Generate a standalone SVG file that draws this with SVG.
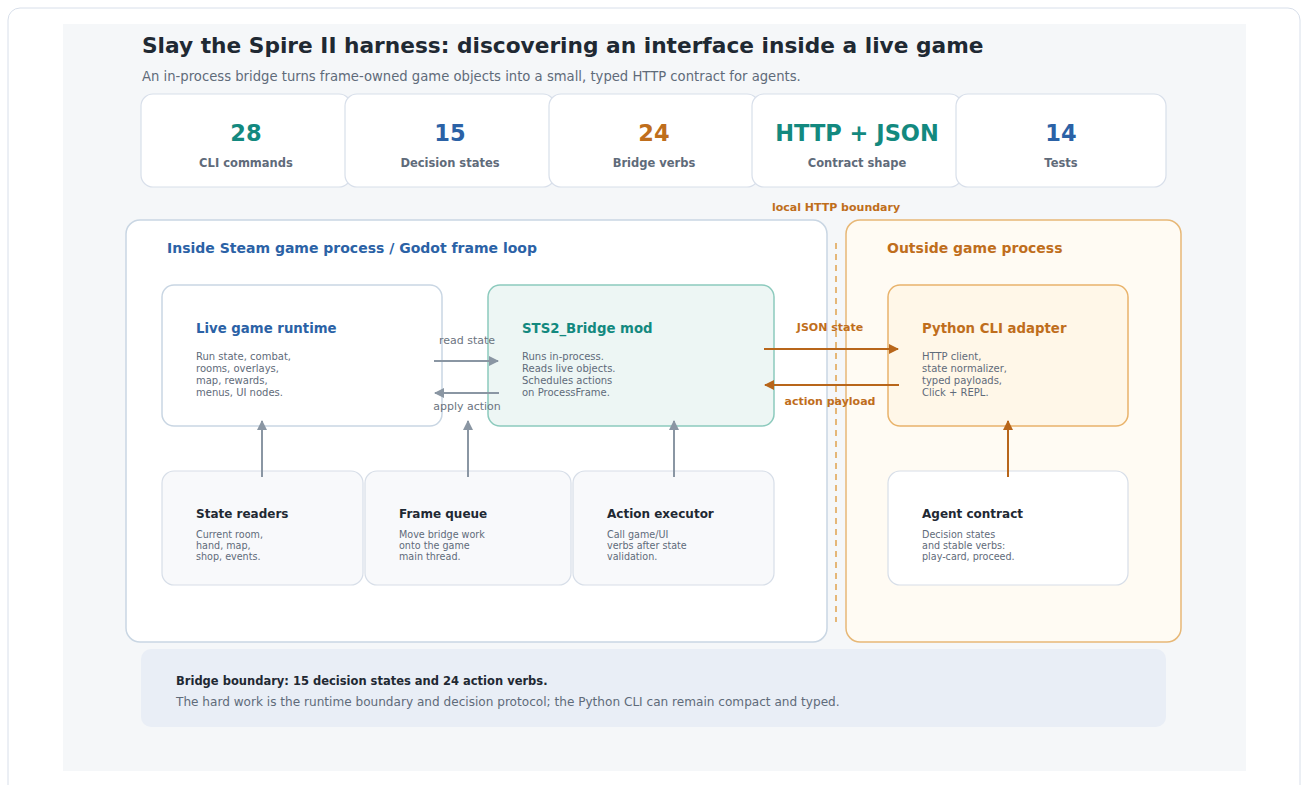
<svg xmlns="http://www.w3.org/2000/svg" width="1301" height="785" viewBox="0 0 1301 785">
<defs>
<style>
text{font-family:"DejaVu Sans","Liberation Sans",sans-serif}
.title{font-size:21.7px;font-weight:bold;fill:#1f2933}
.sub{font-size:13.2px;fill:#5f6b7a}
.card{fill:#fff;stroke:#d8dfea;stroke-width:1.2}
.num{font-size:22.5px;font-weight:bold;text-anchor:middle}
.lbl{font-size:11.5px;font-weight:bold;fill:#5f6b7a;text-anchor:middle}
.teal{fill:#13897f}.blue{fill:#2b62a6}.orange{fill:#bf6e1c}
.grp{font-size:14px;font-weight:bold}
.ntitle{font-size:13.3px;font-weight:bold}
.body{font-size:10px;fill:#5f6b7a}
.stitle{font-size:12px;font-weight:bold;fill:#1f2933}
.sbody{font-size:9.6px;fill:#5f6b7a}
.small{fill:#f8f9fb;stroke:#d7dee8;stroke-width:1.2}
.glbl{font-size:11px;fill:#6b7480;text-anchor:middle}
.olbl{font-size:11px;font-weight:bold;fill:#bf6e1c;text-anchor:middle}
.ga{stroke:#8a96a3;stroke-width:2;fill:none}
.oa{stroke:#b8661a;stroke-width:2;fill:none}
</style>
<marker id="ag" viewBox="0 0 10 10" refX="9" refY="5" markerWidth="5" markerHeight="5" orient="auto"><path d="M0,0L10,5L0,10z" fill="#8a96a3"/></marker>
<marker id="ao" viewBox="0 0 10 10" refX="9" refY="5" markerWidth="5" markerHeight="5" orient="auto"><path d="M0,0L10,5L0,10z" fill="#b8661a"/></marker>
</defs>
<rect x="8" y="8" width="1292" height="790" rx="12" fill="#fff" stroke="#d8dfea"/>
<rect x="63" y="24" width="1183" height="747" fill="#f5f7f9"/>
<text class="title" x="142" y="53">Slay the Spire II harness: discovering an interface inside a live game</text>
<text class="sub" x="142" y="81">An in-process bridge turns frame-owned game objects into a small, typed HTTP contract for agents.</text>

<g id="stat-cli"><rect class="card" x="141" y="94" width="210" height="93" rx="12"/><text class="num teal" x="246" y="141">28</text><text class="lbl" x="246" y="167">CLI commands</text></g>
<g id="stat-states"><rect class="card" x="345" y="94" width="210" height="93" rx="12"/><text class="num blue" x="450" y="141">15</text><text class="lbl" x="450" y="167">Decision states</text></g>
<g id="stat-verbs"><rect class="card" x="549" y="94" width="210" height="93" rx="12"/><text class="num orange" x="654" y="141">24</text><text class="lbl" x="654" y="167">Bridge verbs</text></g>
<g id="stat-contract"><rect class="card" x="752" y="94" width="210" height="93" rx="12"/><text class="num teal" x="857" y="141">HTTP + JSON</text><text class="lbl" x="857" y="167">Contract shape</text></g>
<g id="stat-tests"><rect class="card" x="956" y="94" width="210" height="93" rx="12"/><text class="num blue" x="1061" y="141">14</text><text class="lbl" x="1061" y="167">Tests</text></g>

<g id="inside-process"><rect x="126" y="220" width="701" height="422" rx="14" fill="#fff" stroke="#c9d6e3" stroke-width="1.5"/><text class="grp blue" x="167" y="253">Inside Steam game process / Godot frame loop</text></g>
<g id="outside-process"><rect x="846" y="220" width="335" height="422" rx="14" fill="#fffbf3" stroke="#e7b877" stroke-width="1.5"/><text class="grp orange" x="887" y="253">Outside game process</text></g>
<g id="http-boundary"><line x1="836" y1="243" x2="836" y2="622" stroke="#e0a24e" stroke-width="1.5" stroke-dasharray="6 5"/><text class="olbl" x="836" y="211">local HTTP boundary</text></g>

<g id="live-runtime"><rect x="162" y="285" width="280" height="141" rx="12" fill="#fff" stroke="#c9d6e3" stroke-width="1.5"/><text class="ntitle blue" x="196" y="333">Live game runtime</text>
<text class="body" x="196" y="360">Run state, combat,</text><text class="body" x="196" y="372">rooms, overlays,</text><text class="body" x="196" y="384">map, rewards,</text><text class="body" x="196" y="396">menus, UI nodes.</text></g>
<g id="bridge-mod"><rect x="488" y="285" width="286" height="141" rx="12" fill="#edf6f4" stroke="#8ccabd" stroke-width="1.5"/><text class="ntitle teal" x="522" y="333">STS2_Bridge mod</text>
<text class="body" x="522" y="360">Runs in-process.</text><text class="body" x="522" y="372">Reads live objects.</text><text class="body" x="522" y="384">Schedules actions</text><text class="body" x="522" y="396">on ProcessFrame.</text></g>
<g id="python-cli"><rect x="888" y="285" width="240" height="141" rx="12" fill="#fff7e8" stroke="#e9b36b" stroke-width="1.5"/><text class="ntitle orange" x="922" y="333">Python CLI adapter</text>
<text class="body" x="922" y="360">HTTP client,</text><text class="body" x="922" y="372">state normalizer,</text><text class="body" x="922" y="384">typed payloads,</text><text class="body" x="922" y="396">Click + REPL.</text></g>

<g id="state-readers"><rect class="small" x="162" y="471" width="201" height="114" rx="12"/><text class="stitle" x="196" y="518">State readers</text>
<text class="sbody" x="196" y="538">Current room,</text><text class="sbody" x="196" y="549">hand, map,</text><text class="sbody" x="196" y="560">shop, events.</text></g>
<g id="frame-queue"><rect class="small" x="365" y="471" width="206" height="114" rx="12"/><text class="stitle" x="399" y="518">Frame queue</text>
<text class="sbody" x="399" y="538">Move bridge work</text><text class="sbody" x="399" y="549">onto the game</text><text class="sbody" x="399" y="560">main thread.</text></g>
<g id="action-executor"><rect class="small" x="573" y="471" width="201" height="114" rx="12"/><text class="stitle" x="607" y="518">Action executor</text>
<text class="sbody" x="607" y="538">Call game/UI</text><text class="sbody" x="607" y="549">verbs after state</text><text class="sbody" x="607" y="560">validation.</text></g>
<g id="agent-contract"><rect x="888" y="471" width="240" height="114" rx="12" fill="#fff" stroke="#d7dee8" stroke-width="1.2"/><text class="stitle" x="922" y="518">Agent contract</text>
<text class="sbody" x="922" y="538">Decision states</text><text class="sbody" x="922" y="549">and stable verbs:</text><text class="sbody" x="922" y="560">play-card, proceed.</text></g>

<g id="connectors">
<line class="ga" x1="434" y1="361" x2="498" y2="361" marker-end="url(#ag)"/>
<text class="glbl" x="467" y="344">read state</text>
<line class="ga" x1="499" y1="393" x2="435" y2="393" marker-end="url(#ag)"/>
<text class="glbl" x="467" y="410">apply action</text>
<line class="oa" x1="764" y1="349" x2="898" y2="349" marker-end="url(#ao)"/>
<text class="olbl" x="830" y="331">JSON state</text>
<line class="oa" x1="899" y1="385" x2="765" y2="385" marker-end="url(#ao)"/>
<text class="olbl" x="830" y="405">action payload</text>
<line class="ga" x1="262" y1="477" x2="262" y2="421" marker-end="url(#ag)"/>
<line class="ga" x1="468" y1="477" x2="468" y2="421" marker-end="url(#ag)"/>
<line class="ga" x1="674" y1="477" x2="674" y2="421" marker-end="url(#ag)"/>
<line class="oa" x1="1008" y1="477" x2="1008" y2="421" marker-end="url(#ao)"/>
</g>

<g id="summary"><rect x="141" y="649" width="1025" height="78" rx="10" fill="#e9eef6"/>
<text x="176" y="685" font-size="11.5" font-weight="bold" fill="#1f2933">Bridge boundary: 15 decision states and 24 action verbs.</text>
<text x="176" y="706" font-size="12.1" fill="#5f6b7a">The hard work is the runtime boundary and decision protocol; the Python CLI can remain compact and typed.</text></g>
</svg>
